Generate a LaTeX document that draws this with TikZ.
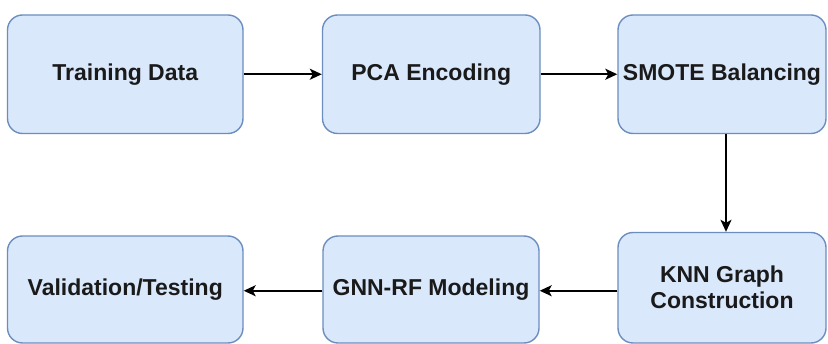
\documentclass[tikz,border=0pt]{standalone}
\usepackage{fontspec}
\setmainfont{Liberation Sans}
\usetikzlibrary{arrows.meta}
\definecolor{boxfill}{HTML}{DAE8FC}
\definecolor{boxline}{HTML}{6C8EBF}
\definecolor{txt}{HTML}{1A1A1A}
\tikzset{
  stepbox/.style={draw=boxline, fill=boxfill, line width=1.4pt, rounded corners=15pt,
    inner sep=0pt, align=center, text=txt,
    font=\fontsize{23}{26}\selectfont\bfseries},
  flow/.style={line width=1.9pt, -{Stealth[length=12pt,width=11pt,inset=3pt]}}
}
\begin{document}
\begin{tikzpicture}[x=1pt,y=-1pt]
\useasboundingbox (0,0) rectangle (828,344);
\clip (0,0) rectangle (828,344);
\node[stepbox, minimum width=235.5pt, minimum height=118.5pt] (train) at (125.25,74.25) {Training Data};
\node[stepbox, minimum width=217.5pt, minimum height=118.5pt] (pca) at (431.25,74.25) {PCA Encoding};
\node[stepbox, minimum width=208pt, minimum height=118.5pt] (smote) at (722,74.25) {SMOTE Balancing};
\node[stepbox, minimum width=208pt, minimum height=110.5pt] (knn) at (722,287.75) {KNN Graph\\Construction};
\node[stepbox, minimum width=216pt, minimum height=107pt] (gnn) at (431,289.5) {GNN-RF Modeling};
\node[stepbox, minimum width=235.5pt, minimum height=107pt] (val) at (125.25,289.5) {Validation/Testing};
\coordinate (k1) at ([yshift=-3pt]knn.west);
\draw[flow] (train.east) -- (pca.west);
\draw[flow] (pca.east) -- (smote.west);
\draw[flow] ([xshift=4pt]smote.south) -- ([xshift=4pt]knn.north);
\draw[flow] (k1) -- (k1 -| gnn.east);
\draw[flow] (k1 -| gnn.west) -- (k1 -| val.east);
\end{tikzpicture}
\end{document}
